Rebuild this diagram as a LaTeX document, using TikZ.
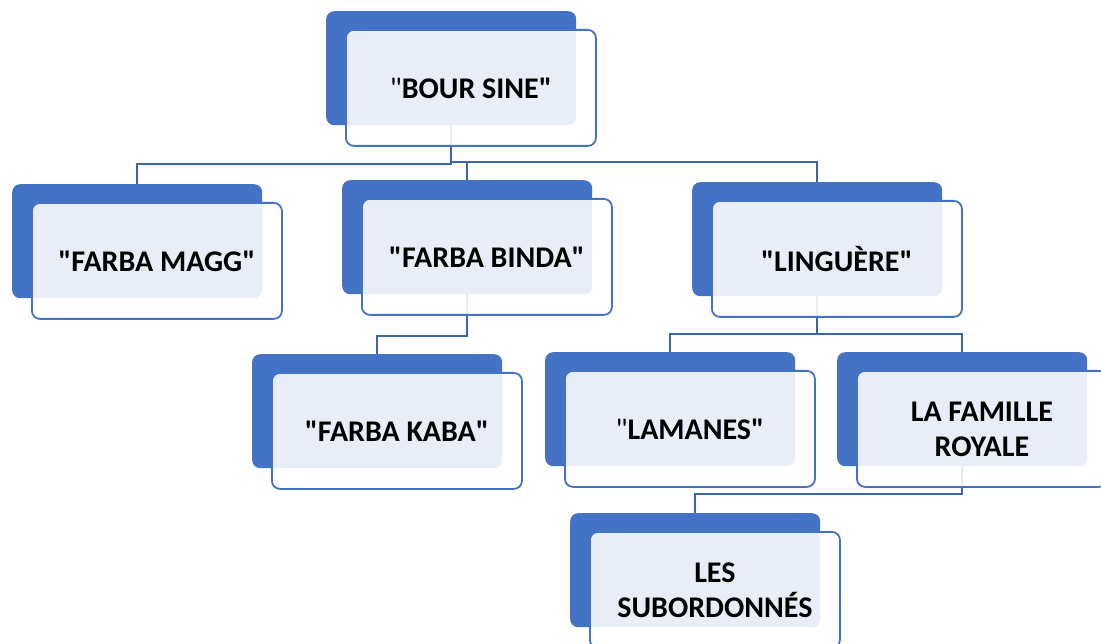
\documentclass[tikz,border=0pt]{standalone}
\usepackage{fontspec}
\setmainfont{Carlito}
\definecolor{accblue}{HTML}{4472C4}
\definecolor{connblue}{HTML}{3B64AE}
\newcommand{\qq}{\XeTeXglyph\XeTeXcharglyph"22\relax}
\tikzset{
  backbox/.style={draw=none, fill=accblue, rounded corners=8pt, minimum width=250pt, minimum height=114pt, anchor=north west, inner sep=0pt},
  frontbox/.style={draw=accblue, line width=1.8pt, fill=white, fill opacity=0.88, text opacity=1, rounded corners=8pt, minimum width=250pt, minimum height=116pt, inner sep=0pt, anchor=north west, align=center, font=\fontsize{30}{35}\selectfont\bfseries},
  conn/.style={draw=connblue, line width=2.3pt},
}
\newcommand{\orgbox}[4]{%
  \node[backbox] (#1B) at (#2,#3) {};
  \node[frontbox] (#1) at (#2+19,#3+18) {#4};
}
\begin{document}
\begin{tikzpicture}[x=1pt,y=-1pt]
\useasboundingbox (0,0) rectangle (1101,644);
% placeholders for back-box anchors (drawn later on top)
\path
  (326,11) node[backbox, fill=none] (bourB) {}
  (12,184) node[backbox, fill=none] (maggB) {}
  (342,180) node[backbox, fill=none] (bindaB) {}
  (692,182) node[backbox, fill=none] (lingB) {}
  (252,354) node[backbox, fill=none] (kabaB) {}
  (545,352) node[backbox, fill=none] (lamB) {}
  (837,352) node[backbox, fill=none] (famB) {}
  (570,513) node[backbox, fill=none] (subB) {};
% connectors
\draw[conn] (bourB.south) -- (bourB.south |- 0,164) -| (maggB.north);
\draw[conn] (bourB.south) -- (bourB.south |- 0,162) -| (bindaB.north);
\draw[conn] (bourB.south) -- (bourB.south |- 0,162) -| (lingB.north);
\draw[conn] (bindaB.south) -- (bindaB.south |- 0,336) -| (kabaB.north);
\draw[conn] (lingB.south) -- (lingB.south |- 0,334) -| (lamB.north);
\draw[conn] (lingB.south) -- (lingB.south |- 0,334) -| (famB.north);
\draw[conn] (famB.south) -- (famB.south |- 0,494) -| (subB.north);
% boxes
\orgbox{bour}{326}{11}{{\mdseries\qq}BOUR SINE\qq}
\orgbox{magg}{12}{184}{\qq FARBA MAGG\qq}
\orgbox{binda}{342}{180}{\qq FARBA BINDA\qq}
\orgbox{ling}{692}{182}{\qq LINGUÈRE\qq}
\orgbox{kaba}{252}{354}{\qq FARBA KABA\qq}
\orgbox{lam}{545}{352}{{\mdseries\qq}LAMANES\qq}
\orgbox{fam}{837}{352}{LA FAMILLE\\ROYALE}
\orgbox{sub}{570}{513}{LES\\SUBORDONNÉS}
\end{tikzpicture}
\end{document}
